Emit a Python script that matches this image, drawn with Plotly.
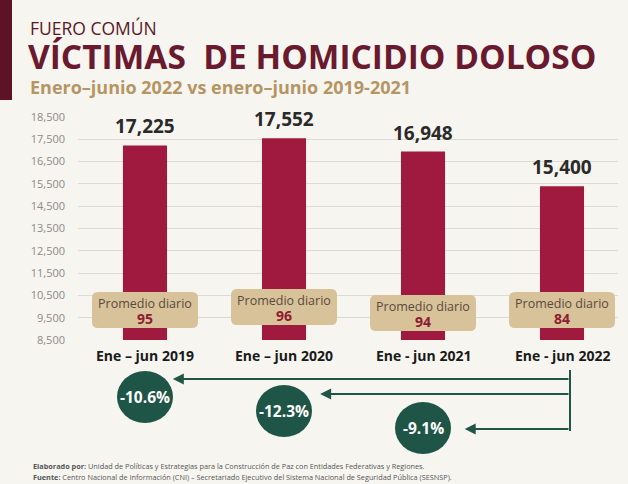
import plotly.graph_objects as go

# ---------------- data ----------------
categories = ["Ene – jun 2019", "Ene – jun 2020", "Ene - jun 2021", "Ene - jun 2022"]
victims = [17225, 17552, 16948, 15400]
daily_avg = [95, 96, 94, 84]
pct_change_vs_2022 = [-10.6, -12.3, -9.1]   # 2022 compared with 2019, 2020, 2021
y_ticks = list(range(8500, 18501, 1000))

# ---------------- layout constants ----------------
W, H = 628, 484
PL, PR, PT, PB = 78, 618, 117, 340
BG = "#f7f5f0"
MAROON = "#6a1a2f"
BAR = "#a01a40"
TAN = "#d8c29a"
GOLD = "#b59563"
GREEN = "#1f5547"
FONT = "Open Sans"


def py(y_px):
    return (PB - y_px) / (PB - PT)


def px(x_px):
    return (x_px - PL) / (PR - PL)


fig = go.Figure()
fig.add_trace(go.Bar(
    x=list(range(len(categories))), y=victims, base=0,
    marker=dict(color=BAR, line=dict(width=0)),
    width=0.317, hoverinfo="skip", showlegend=False,
))

annotations = []
shapes = []

# value labels above bars
for i, v in enumerate(victims):
    annotations.append(dict(
        x=i, y=v, xref="x", yref="y", text=f"{v:,}", showarrow=False,
        yanchor="bottom", yshift=4,
        font=dict(family=FONT, size=19, color="#2a2a2a", weight="bold"),
    ))

# "Promedio diario" boxes
box_centers_px = [310, 307, 313, 310]
w2, h2, r = 53, 18, 6
rr_path = (f"M {-w2+r},{-h2} L {w2-r},{-h2} Q {w2},{-h2} {w2},{-h2+r} "
           f"L {w2},{h2-r} Q {w2},{h2} {w2-r},{h2} L {-w2+r},{h2} "
           f"Q {-w2},{h2} {-w2},{h2-r} L {-w2},{-h2+r} Q {-w2},{-h2} {-w2+r},{-h2} Z")
for i, avg in enumerate(daily_avg):
    cy = box_centers_px[i]
    shapes.append(dict(
        type="path", path=rr_path, xref="x", yref="paper",
        xsizemode="pixel", ysizemode="pixel", xanchor=i, yanchor=py(cy),
        fillcolor=TAN, line=dict(width=0), layer="above",
    ))
    annotations.append(dict(
        x=i, y=py(cy + 3), xref="x", yref="paper", text="Promedio diario",
        showarrow=False, yanchor="bottom", borderpad=0,
        font=dict(family=FONT, size=12.5, color="#5a4a3c"),
    ))
    annotations.append(dict(
        x=i, y=py(cy - 2), xref="x", yref="paper", text=str(avg),
        showarrow=False, yanchor="top", borderpad=0,
        font=dict(family=FONT, size=14, color="#8e1b30", weight="bold"),
    ))

# category labels
for i, c in enumerate(categories):
    annotations.append(dict(
        x=i, y=py(355), xref="x", yref="paper", text=c, showarrow=False,
        yanchor="middle",
        font=dict(family=FONT, size=14, color="#1a1a1a", weight="bold"),
    ))

# comparison arrows & circles
vert_x = 3 + (570 - 562) / 139
shapes.append(dict(type="line", xref="x", yref="paper", x0=vert_x, x1=vert_x,
                   y0=py(370), y1=py(431), line=dict(color=GREEN, width=2)))
arrow_rows_px = [379, 394, 429]
head_offsets = [0.20, 0.26, 0.30]
circle_centers_px = [397, 411, 428]
for i, pct in enumerate(pct_change_vs_2022):
    yy = py(arrow_rows_px[i])
    annotations.append(dict(
        x=i + head_offsets[i], y=yy, xref="x", yref="paper",
        ax=vert_x, ay=0, axref="x", ayref="pixel",
        showarrow=True, arrowhead=2, arrowsize=1.1, arrowwidth=2,
        arrowcolor=GREEN, text="",
    ))
    cy = py(circle_centers_px[i])
    shapes.append(dict(
        type="circle", xref="x", yref="paper", xsizemode="pixel", ysizemode="pixel",
        xanchor=i, yanchor=cy, x0=-28, x1=28, y0=-26, y1=26,
        fillcolor=GREEN, line=dict(width=0), layer="above",
    ))
    annotations.append(dict(
        x=i, y=cy, xref="x", yref="paper", text=f"{pct:.1f}%", showarrow=False,
        yanchor="middle",
        font=dict(family=FONT, size=15.5, color="white", weight="bold"),
    ))

# left maroon strip
shapes.append(dict(type="rect", xref="paper", yref="paper",
                   x0=px(0), x1=px(12), y0=py(100), y1=py(0),
                   fillcolor="#5e1226", line=dict(width=0), layer="below"))

# titles and footer
annotations += [
    dict(x=px(29), y=py(41), xref="paper", yref="paper", xanchor="left", yanchor="bottom",
         text="FUERO COMÚN", showarrow=False, borderpad=0,
         font=dict(family=FONT, size=17.5, color="#5a1828")),
    dict(x=px(27), y=py(56), xref="paper", yref="paper", xanchor="left", yanchor="middle",
         text="VÍCTIMAS  DE HOMICIDIO DOLOSO", showarrow=False, borderpad=0,
         font=dict(family=FONT, size=33.5, color=MAROON, weight="bold")),
    dict(x=px(29), y=py(74), xref="paper", yref="paper", xanchor="left", yanchor="top",
         text="Enero–junio 2022 vs enero–junio 2019-2021", showarrow=False, borderpad=0,
         font=dict(family=FONT, size=18, color=GOLD, weight="bold")),
    dict(x=px(31), y=py(466), xref="paper", yref="paper", xanchor="left", yanchor="middle",
         text="<b>Elaborado por:</b> Unidad de Políticas y Estrategias para la Construcción de Paz con Entidades Federativas y Regiones.",
         showarrow=False, font=dict(family=FONT, size=7.3, color="#555555")),
    dict(x=px(31), y=py(477), xref="paper", yref="paper", xanchor="left", yanchor="middle",
         text="<b>Fuente:</b> Centro Nacional de Información (CNI) – Secretariado Ejecutivo del Sistema Nacional de Seguridad Pública (SESNSP).",
         showarrow=False, font=dict(family=FONT, size=7.3, color="#555555")),
]

fig.update_layout(
    width=W, height=H,
    margin=dict(l=PL, r=W - PR, t=PT, b=H - PB, pad=0),
    paper_bgcolor=BG, plot_bgcolor=BG,
    showlegend=False,
    xaxis=dict(range=[-67 / 139, 473 / 139], showticklabels=False, showgrid=False,
               zeroline=False, fixedrange=True),
    yaxis=dict(range=[8500, 18500], tickvals=y_ticks, tickformat=",d",
               showgrid=True, gridcolor="#dcdad5", gridwidth=1, zeroline=False,
               showline=False, ticks="", ticklabelstandoff=12,
               tickfont=dict(family=FONT, size=11, color="#8a8a8a")),
    annotations=annotations,
    shapes=shapes,
)

fig.write_html(
    "out.html",
    config={"displayModeBar": False},
    post_script="document.body.style.margin='0';document.body.style.overflow='hidden';",
)
